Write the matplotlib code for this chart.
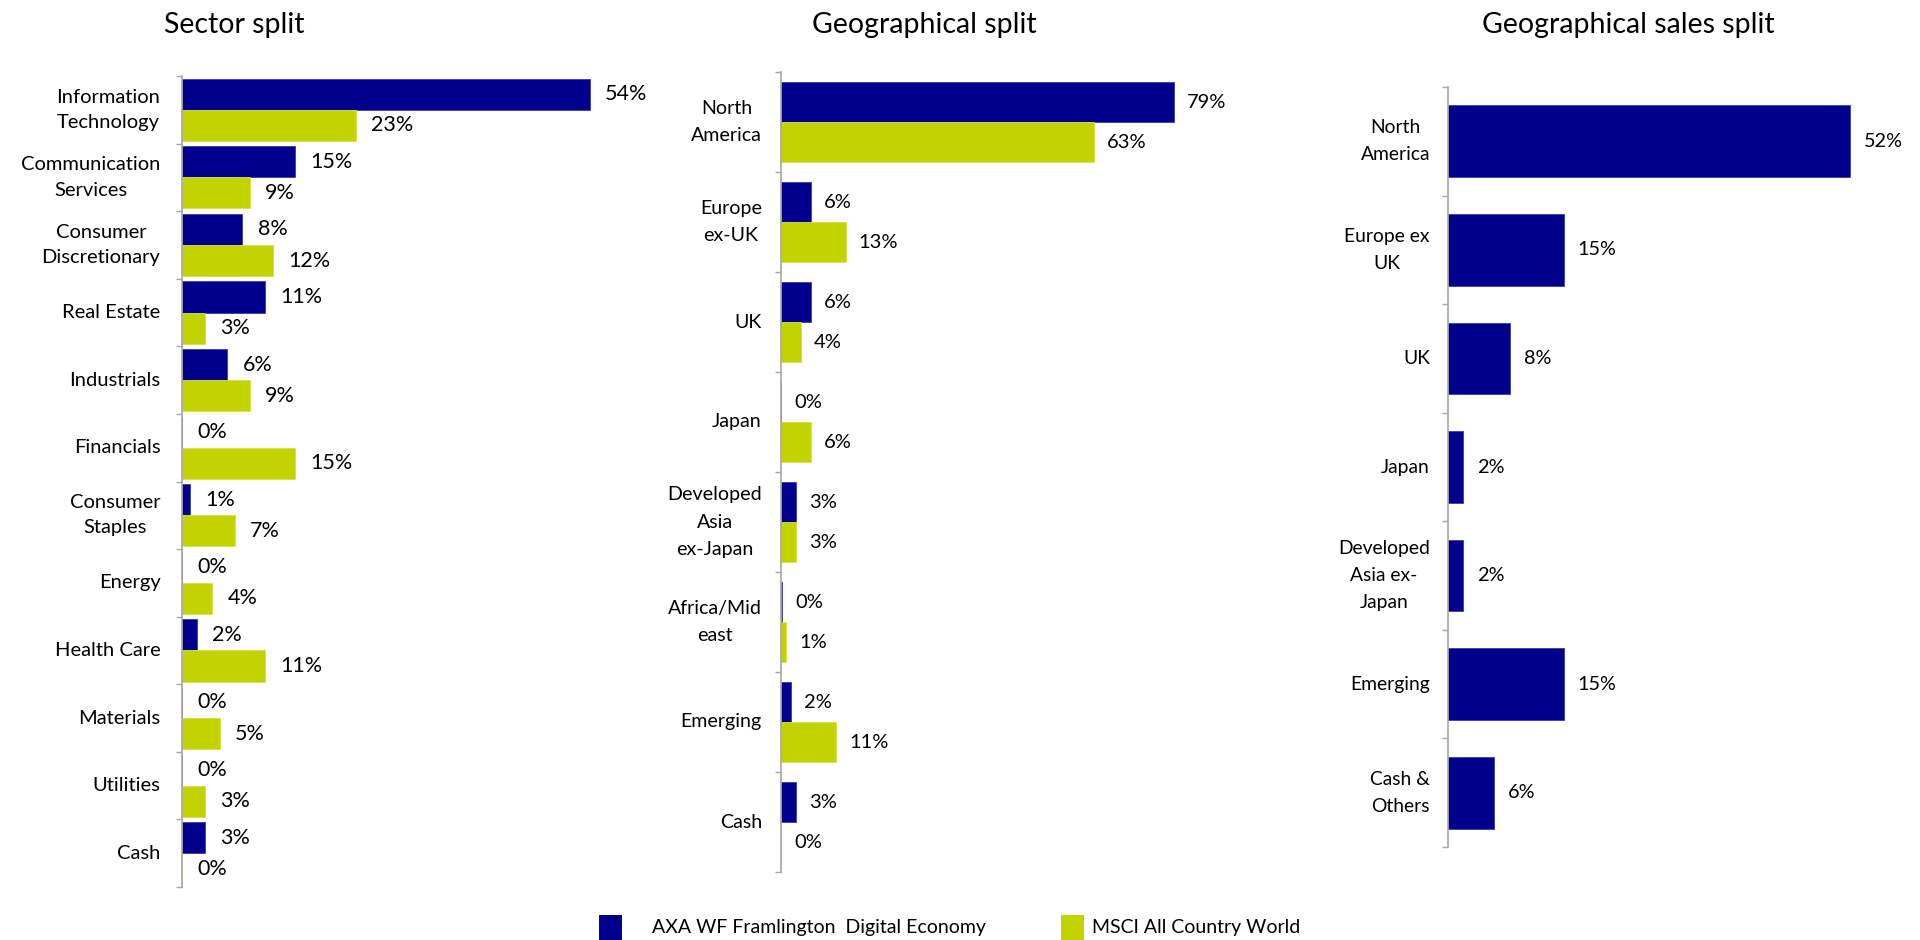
import matplotlib
matplotlib.use("Agg")
import matplotlib.pyplot as plt
import numpy as np
from matplotlib.patches import Rectangle

plt.rcParams['font.family'] = ['Lato', 'DejaVu Sans']

# ---------------- data ----------------
sector_labels = ["Information\nTechnology", "Communication\nServices", "Consumer\nDiscretionary",
                 "Real Estate", "Industrials", "Financials", "Consumer\nStaples", "Energy",
                 "Health Care", "Materials", "Utilities", "Cash"]
sector_fund = [54, 15, 8, 11, 6, 0, 1, 0, 2, 0, 0, 3]
sector_index = [23, 9, 12, 3, 9, 15, 7, 4, 11, 5, 3, 0]

geo_labels = ["North\nAmerica", "Europe\nex-UK", "UK", "Japan", "Developed\nAsia\nex-Japan",
              "Africa/Mid\neast", "Emerging", "Cash"]
geo_fund = [79, 6, 6, 0, 3, 0.3, 2, 3]
geo_index = [63, 13, 4, 6, 3, 1, 11, 0]

sales_labels = ["North\nAmerica", "Europe ex\nUK", "UK", "Japan", "Developed\nAsia ex-\nJapan",
                "Emerging", "Cash &\nOthers"]
sales_fund = [52, 15, 8, 2, 2, 15, 6]

series_names = ["AXA WF Framlington  Digital Economy", "MSCI All Country World"]
titles = ["Sector split", "Geographical split", "Geographical sales split"]

BLUE = "#00008C"
GREEN = "#C3D300"
SPINE = "#A6A6A6"

W, H = 1920, 940
fig = plt.figure(figsize=(W / 100, H / 100), dpi=100)


def make_ax(left, top, right, bottom):
    return fig.add_axes([left / W, 1 - bottom / H, (right - left) / W, (bottom - top) / H])


def style_ax(ax, labels, n, fs, pad_pt, ls):
    ax.set_ylim(n - 0.5, -0.5)
    ax.set_yticks(np.arange(n))
    ax.set_yticklabels(labels, fontsize=fs, multialignment='center', linespacing=ls,
                       color='black', va='center')
    ax.set_yticks(np.arange(n + 1) - 0.5, minor=True)
    ax.tick_params(axis='y', which='major', length=0, pad=pad_pt)
    ax.tick_params(axis='y', which='minor', length=4, width=1, color=SPINE, direction='out')
    for s in ['top', 'right', 'bottom']:
        ax.spines[s].set_visible(False)
    ax.spines['left'].set_color(SPINE)
    ax.spines['left'].set_linewidth(1.2)
    ax.set_xticks([])
    ax.set_facecolor('none')


def fmt(vals):
    return [f"{v:.0f}%" for v in vals]


# ---- Panel 1: sector split ----
ax1 = make_ax(182, 76, 182 + 7.55 * 60, 887)
n1 = len(sector_labels)
y1 = np.arange(n1)
h1 = 0.46
b1 = ax1.barh(y1 - h1 / 2, sector_fund, height=h1, color=BLUE, edgecolor='#3A3AA8', linewidth=0.6)
g1 = ax1.barh(y1 + h1 / 2, sector_index, height=h1, color=GREEN, edgecolor='#D5E04A', linewidth=0.6)
ax1.set_xlim(0, 60)
ax1.bar_label(b1, labels=fmt(sector_fund), padding=11, fontsize=15.5)
ax1.bar_label(g1, labels=fmt(sector_index), padding=11, fontsize=15.5)
style_ax(ax1, sector_labels, n1, 14.5, 15.5, 1.6)

# ---- Panel 2: geographical split ----
ax2 = make_ax(781, 72, 781 + 4.97 * 90, 872)
n2 = len(geo_labels)
y2 = np.arange(n2)
h2 = 0.40
b2 = ax2.barh(y2 - h2 / 2, geo_fund, height=h2, color=BLUE, edgecolor='#3A3AA8', linewidth=0.6)
g2 = ax2.barh(y2 + h2 / 2, geo_index, height=h2, color=GREEN, edgecolor='#D5E04A', linewidth=0.6)
ax2.set_xlim(0, 90)
ax2.bar_label(b2, labels=fmt(geo_fund), padding=9.5, fontsize=14.5)
ax2.bar_label(g2, labels=fmt(geo_index), padding=9.5, fontsize=14.5)
style_ax(ax2, geo_labels, n2, 14.1, 13.7, 1.72)

# ---- Panel 3: geographical sales split ----
ax3 = make_ax(1448, 87, 1448 + 7.73 * 58, 847)
n3 = len(sales_labels)
y3 = np.arange(n3)
h3 = 0.66
b3 = ax3.barh(y3, sales_fund, height=h3, color=BLUE, edgecolor='#3A3AA8', linewidth=0.6)
ax3.set_xlim(0, 58)
ax3.bar_label(b3, labels=fmt(sales_fund), padding=10, fontsize=14.3)
style_ax(ax3, sales_labels, n3, 13.9, 13, 1.72)

# ---- Titles ----
for cx, t in zip([234, 924, 1628], titles):
    fig.text(cx / W, 1 - 25 / H, t, ha='center', va='center', fontsize=20.5, color='black')

# ---- Legend ----
fig.patches.append(Rectangle((599 / W, 0), 23 / W, 25 / H, transform=fig.transFigure,
                             facecolor=BLUE, edgecolor='none'))
fig.text(652 / W, 1 - 927 / H, series_names[0], ha='left', va='center', fontsize=14)
fig.patches.append(Rectangle((1061 / W, 0), 23 / W, 25 / H, transform=fig.transFigure,
                             facecolor=GREEN, edgecolor='none'))
fig.text(1092 / W, 1 - 927 / H, series_names[1], ha='left', va='center', fontsize=14)

fig.savefig("out.png", dpi=100, facecolor='white')
